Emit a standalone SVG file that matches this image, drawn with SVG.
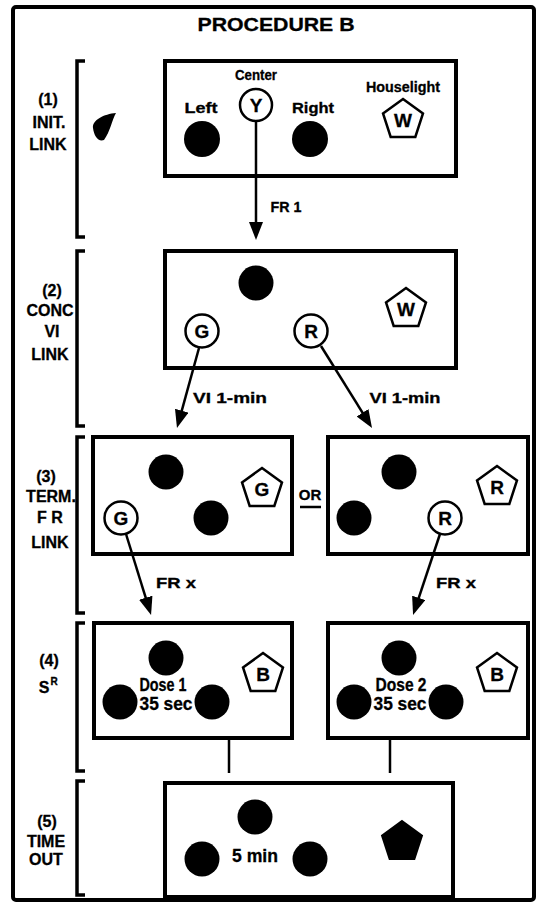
<svg xmlns="http://www.w3.org/2000/svg" xmlns:xlink="http://www.w3.org/1999/xlink" width="544" height="904" viewBox="0 0 544 904">
<defs>
<style>
.t{font-family:"Liberation Sans",Arial,sans-serif;font-weight:bold;fill:#000;text-anchor:middle;stroke:#000;stroke-width:0.3}
.lab{font-size:16px}
.sm{font-size:14px}
.mid{font-size:15px}
.big{font-size:18px}
.ltr{font-size:19px}
.box{fill:#fff;stroke:#000;stroke-width:4}
.open{fill:#fff;stroke:#000;stroke-width:2.5}
.dot{fill:#000}
.pent{fill:#fff;stroke:#000;stroke-width:2.5;stroke-linejoin:miter}
.pentf{fill:#000;stroke:#000;stroke-width:2}
.ln{fill:none;stroke:#000;stroke-width:2.5}
.br{fill:none;stroke:#000;stroke-width:3.5}
.frame{fill:none;stroke:#000;stroke-width:4}
</style>
<polygon id="pent" points="0,-21 19.97,-6.49 12.34,16.99 -12.34,16.99 -19.97,-6.49"/>
<marker id="ah" markerUnits="userSpaceOnUse" markerWidth="18" markerHeight="14" refX="10" refY="7" orient="auto" viewBox="0 0 18 14">
<path d="M0,0 L18,7 L0,14 Z" fill="#000"/>
</marker>
</defs>
<rect width="544" height="904" fill="#fff"/>
<rect class="frame" x="13" y="7" width="521" height="893" rx="3"/>
<text class="t big" x="276" y="31" textLength="157" lengthAdjust="spacingAndGlyphs">PROCEDURE  B</text>

<g id="brackets">
<path class="br" d="M85,61 H77 V237 H85"/>
<path class="br" d="M85,251 H77 V426 H85"/>
<path class="br" d="M85,437 H77 V613 H85"/>
<path class="br" d="M85,623 H77 V771 H85"/>
<path class="br" d="M85,781 H77 V895 H85"/>
</g>

<g id="stage1-label">
<text class="t lab" x="48" y="105">(1)</text>
<text class="t lab" x="49" y="128">INIT.</text>
<text class="t lab" x="48" y="150">LINK</text>
</g>
<g id="stage2-label">
<text class="t lab" x="52" y="296">(2)</text>
<text class="t lab" x="50" y="316">CONC</text>
<text class="t lab" x="52" y="337">VI</text>
<text class="t lab" x="50" y="360">LINK</text>
</g>
<g id="stage3-label">
<text class="t lab" x="46" y="482">(3)</text>
<text class="t lab" x="51" y="502">TERM.</text>
<text class="t lab" x="50" y="523">F R</text>
<text class="t lab" x="50" y="548">LINK</text>
</g>
<g id="stage4-label">
<text class="t lab" x="49" y="666">(4)</text>
<text class="t lab" x="44" y="693">S</text>
<text class="t" x="54" y="685" font-size="10">R</text>
</g>
<g id="stage5-label">
<text class="t lab" x="47" y="827">(5)</text>
<text class="t lab" x="46" y="847">TIME</text>
<text class="t lab" x="46" y="865">OUT</text>
</g>

<path id="smudge" class="dot" d="M93,128 C92,120 104,114 116,113 C112,120 110,132 104,140 C98,142 94,136 93,128 Z"/>

<g id="box1">
<rect class="box" x="165" y="61" width="291" height="115"/>
<text class="t sm" x="256" y="80" textLength="42" lengthAdjust="spacingAndGlyphs">Center</text>
<circle class="open" cx="256" cy="105" r="16"/>
<text class="t ltr" x="256" y="112">Y</text>
<text class="t sm" x="201" y="113" textLength="33" lengthAdjust="spacingAndGlyphs">Left</text>
<circle class="dot" cx="202" cy="139" r="18"/>
<text class="t sm" x="313" y="113" textLength="42" lengthAdjust="spacingAndGlyphs">Right</text>
<circle class="dot" cx="310" cy="139" r="18"/>
<text class="t sm" x="403" y="92" textLength="74" lengthAdjust="spacingAndGlyphs">Houselight</text>
<use href="#pent" xlink:href="#pent" class="pent" x="403" y="120"/>
<text class="t ltr" x="403" y="127">W</text>
</g>

<g id="box2">
<rect class="box" x="165" y="251" width="291" height="117"/>
<circle class="dot" cx="256" cy="283" r="17.5"/>
<circle class="open" cx="202" cy="331" r="16.5"/>
<text class="t ltr" x="202" y="338">G</text>
<circle class="open" cx="311" cy="331" r="16.5"/>
<text class="t ltr" x="311" y="338">R</text>
<use href="#pent" xlink:href="#pent" class="pent" x="406" y="309"/>
<text class="t ltr" x="406" y="316">W</text>
</g>

<g id="box3-green">
<rect class="box" x="93" y="437" width="199" height="117"/>
<circle class="dot" cx="166" cy="472" r="17.5"/>
<circle class="dot" cx="211" cy="518" r="17.5"/>
<use href="#pent" xlink:href="#pent" class="pent" x="262" y="489"/>
<text class="t ltr" x="262" y="496">G</text>
<circle class="open" cx="121" cy="518" r="16.5"/>
<text class="t ltr" x="121" y="525">G</text>
</g>

<g id="or-label">
<text class="t mid" x="310" y="500">OR</text>
<line class="ln" x1="300" y1="507" x2="321" y2="507" stroke-width="2"/>
</g>

<g id="box3-red">
<rect class="box" x="328" y="437" width="200" height="117"/>
<circle class="dot" cx="399" cy="472" r="17.5"/>
<circle class="dot" cx="354" cy="518" r="17.5"/>
<circle class="open" cx="445" cy="518" r="16.5"/>
<text class="t ltr" x="445" y="525">R</text>
<use href="#pent" xlink:href="#pent" class="pent" x="497" y="487"/>
<text class="t ltr" x="497" y="494">R</text>
</g>

<g id="box4-dose1">
<rect class="box" x="94" y="623" width="198" height="115"/>
<circle class="dot" cx="166" cy="658" r="17.5"/>
<circle class="dot" cx="120" cy="702" r="17.5"/>
<circle class="dot" cx="212" cy="702" r="17.5"/>
<use href="#pent" xlink:href="#pent" class="pent" x="263" y="674"/>
<text class="t ltr" x="263" y="681">B</text>
<text class="t big" x="163" y="691" textLength="47" lengthAdjust="spacingAndGlyphs">Dose 1</text>
<text class="t big" x="166" y="710" textLength="53" lengthAdjust="spacingAndGlyphs">35 sec</text>
</g>

<g id="box4-dose2">
<rect class="box" x="328" y="623" width="200" height="115"/>
<circle class="dot" cx="399" cy="658" r="17.5"/>
<circle class="dot" cx="354" cy="702" r="17.5"/>
<circle class="dot" cx="446" cy="702" r="17.5"/>
<use href="#pent" xlink:href="#pent" class="pent" x="497" y="674"/>
<text class="t ltr" x="497" y="681">B</text>
<text class="t big" x="401" y="691" textLength="51" lengthAdjust="spacingAndGlyphs">Dose 2</text>
<text class="t big" x="400" y="710" textLength="53" lengthAdjust="spacingAndGlyphs">35 sec</text>
</g>

<g id="box5-timeout">
<rect class="box" x="165" y="783" width="288" height="114"/>
<circle class="dot" cx="255" cy="817" r="17.5"/>
<circle class="dot" cx="202" cy="859" r="17.5"/>
<circle class="dot" cx="310" cy="859" r="17.5"/>
<text class="t big" x="255" y="862" textLength="46" lengthAdjust="spacingAndGlyphs">5 min</text>
<use href="#pent" xlink:href="#pent" class="pentf" x="402" y="842"/>
</g>

<g id="connectors">
<line class="ln" x1="256" y1="121" x2="256" y2="232" marker-end="url(#ah)"/>
<text class="t sm" x="286" y="212" textLength="31" lengthAdjust="spacingAndGlyphs">FR 1</text>
<line class="ln" x1="199" y1="348" x2="179.1" y2="420.3" marker-end="url(#ah)"/>
<text class="t sm" x="230" y="403" textLength="74" lengthAdjust="spacingAndGlyphs">VI  1-min</text>
<line class="ln" x1="321" y1="346" x2="367.8" y2="421.2" marker-end="url(#ah)"/>
<text class="t sm" x="405" y="403" textLength="71" lengthAdjust="spacingAndGlyphs">VI  1-min</text>
<line class="ln" x1="126" y1="534" x2="148.7" y2="607.3" marker-end="url(#ah)"/>
<text class="t sm" x="176" y="588" textLength="40" lengthAdjust="spacingAndGlyphs">FR x</text>
<line class="ln" x1="440" y1="534" x2="415.6" y2="607.4" marker-end="url(#ah)"/>
<text class="t sm" x="456" y="588" textLength="40" lengthAdjust="spacingAndGlyphs">FR x</text>
<line class="ln" x1="229" y1="738" x2="229" y2="773" stroke-width="3"/>
<line class="ln" x1="390" y1="738" x2="390" y2="773" stroke-width="3"/>
</g>
</svg>
